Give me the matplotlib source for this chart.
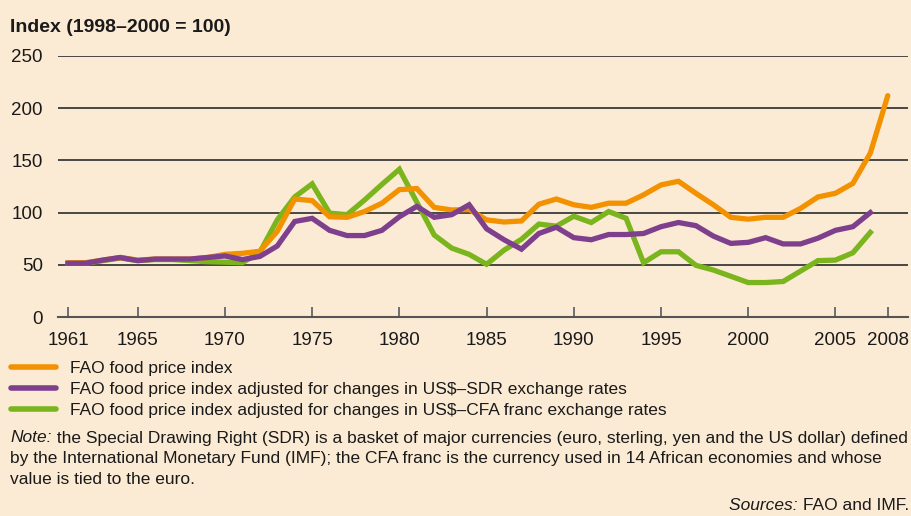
import matplotlib
matplotlib.use("Agg")
import matplotlib.pyplot as plt
from matplotlib import font_manager
from matplotlib.text import Annotation

names = {f.name for f in font_manager.fontManager.ttflist}
FONT = "Liberation Sans" if "Liberation Sans" in names else "DejaVu Sans"
plt.rcParams['font.family'] = [FONT, 'DejaVu Sans']

years = list(range(1961, 2009))

fao_index = [52, 52, 54.5, 57, 54.5, 55.5, 55.5, 55.5, 57, 60,
             61, 63, 82, 113, 111.5, 96, 95.5, 101, 109, 122,
             123, 105, 102.5, 103, 93, 91, 92, 108, 113, 107.5,
             105, 109, 109, 117, 126.5, 130, 118.5, 107.5, 95.5, 93.7,
             95.5, 95.5, 104, 115, 118.5, 128, 157, 212]

sdr_adjusted = [51.5, 51.5, 54.5, 57, 54, 55.5, 55.5, 55.5, 57, 58.5,
                55, 58, 68, 91.5, 94.5, 83, 78, 78, 83, 96,
                106, 95.5, 98, 107.5, 84.5, 74, 65, 80, 86, 76,
                74, 79, 79, 80, 86.5, 90.5, 87.5, 77.5, 70.5, 71.5,
                76, 70, 70, 75.5, 83, 86.5, 100]

cfa_adjusted = [51.5, 51.5, 54, 56.5, 54, 55, 55, 54, 53, 52.5,
                52, 62, 93, 115, 127.5, 99.5, 98, 112, 127, 141.5,
                110, 78.5, 66, 60, 50.5, 64, 74.5, 89, 87, 96.5,
                90.5, 101, 94.5, 52, 62.5, 62.5, 49.5, 45, 39, 33,
                33, 34, 44, 54, 54.5, 61.5, 81]

labels = ["FAO food price index",
          "FAO food price index adjusted for changes in US$\u2013SDR exchange rates",
          "FAO food price index adjusted for changes in US$\u2013CFA franc exchange rates"]

xticks = [1961, 1965, 1970, 1975, 1980, 1985, 1990, 1995, 2000, 2005, 2008]
yticks = [0, 50, 100, 150, 200, 250]

BG = "#FCEBD4"
ORANGE = "#F39200"
PURPLE = "#7E3F8D"
GREEN = "#7AB51D"
GRID = "#3A3A3A"
TXT = "#1a1a1a"

W, H = 912, 516
fig = plt.figure(figsize=(W / 100, H / 100), dpi=100, facecolor=BG)
ax = fig.add_axes([58 / W, 1 - 317 / H, 850 / W, 261 / H], facecolor=BG)

lw = 3.8
l_cfa, = ax.plot(years[:len(cfa_adjusted)], cfa_adjusted, color=GREEN, lw=lw,
                 solid_joinstyle='miter', zorder=3)
l_fao, = ax.plot(years, fao_index, color=ORANGE, lw=lw, solid_joinstyle='miter',
                 solid_capstyle='round', zorder=4)
l_sdr, = ax.plot(years[:len(sdr_adjusted)], sdr_adjusted, color=PURPLE, lw=lw,
                 solid_joinstyle='miter', zorder=5)

ax.set_xlim(1960.43, 2009.16)
ax.set_ylim(0, 250)
for v in yticks[1:]:
    ax.axhline(v, color=GRID, lw=1.3, zorder=1)

for s in ['top', 'right', 'left']:
    ax.spines[s].set_visible(False)
ax.spines['bottom'].set_color("#555555")
ax.spines['bottom'].set_linewidth(1.5)

ax.set_xticks(xticks)
ax.set_xticklabels([str(x) for x in xticks])
ax.set_yticks(yticks)
ax.tick_params(axis='x', direction='in', length=7, width=1.3, color="#666666",
               pad=11, labelsize=13.5, labelcolor=TXT)
ax.tick_params(axis='y', length=0, pad=11, labelsize=13.5, labelcolor=TXT)

fig.text(10 / W, 1 - 28 / H, "Index (1998\u20132000 = 100)", fontsize=14,
         fontweight='bold', va='center', ha='left', color=TXT)

leg = fig.legend([l_fao, l_sdr, l_cfa], labels, loc='upper left',
                 bbox_to_anchor=(11 / W, 1 - 361 / H), frameon=False,
                 fontsize=12.5, handlelength=2.6, handletextpad=0.8,
                 labelspacing=0.33, borderaxespad=0, borderpad=0)
for t in leg.get_texts():
    t.set_color(TXT)
for h in leg.legend_handles:
    h.set_linewidth(4)
    h.set_solid_capstyle('round')

note_lines = [
    " the Special Drawing Right (SDR) is a basket of major currencies (euro, sterling, yen and the US dollar) defined",
    "by the International Monetary Fund (IMF); the CFA franc is the currency used in 14 African economies and whose",
    "value is tied to the euro.",
]
fs_note = 12.5
t0 = fig.text(10 / W, 1 - 438 / H, "Note:", style='italic', fontsize=fs_note,
              va='center', ha='left', color=TXT)
fig.add_artist(Annotation(note_lines[0], xy=(1, 0), xycoords=t0,
                          va='bottom', ha='left', fontsize=fs_note, color=TXT))
fig.text(10 / W, 1 - 459 / H, note_lines[1], fontsize=fs_note, va='center',
         ha='left', color=TXT)
fig.text(10 / W, 1 - 480 / H, note_lines[2], fontsize=fs_note, va='center',
         ha='left', color=TXT)

t_src = fig.text(909 / W, 1 - 506 / H, "FAO and IMF.", fontsize=fs_note,
                 va='center', ha='right', color=TXT)
fig.add_artist(Annotation("Sources: ", xy=(0, 0), xycoords=t_src,
                          va='bottom', ha='right', fontsize=fs_note,
                          style='italic', color=TXT))

fig.savefig("out.png", dpi=100, facecolor=BG)
